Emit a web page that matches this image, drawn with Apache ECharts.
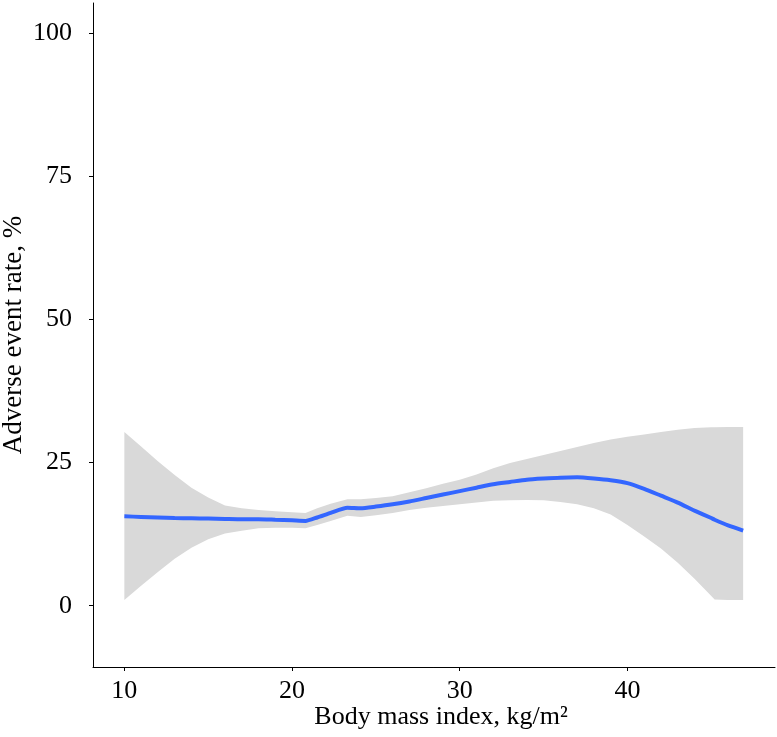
<!DOCTYPE html>
<html>
<head>
<meta charset="utf-8">
<script src="https://cdn.jsdelivr.net/npm/echarts@6/dist/echarts.min.js"></script>
<style>
  html, body { margin: 0; padding: 0; background: #fff; }
  #main { width: 777px; height: 737px; }
</style>
</head>
<body>
<div id="main"></div>
<script>
// BMI positions shared by the fit and its band
const bmi = [10, 11, 12, 13, 14, 15, 16, 17, 18, 19, 20, 20.8, 21.5, 22.3, 23.3, 24.1, 25, 26, 27, 28,
  29, 30, 31, 32, 33, 34, 35, 36, 37, 38, 39, 40, 41, 42, 43, 44, 45, 45.2, 46, 46.9];
// fitted adverse event rate, %
const fit = [15.6, 15.5, 15.4, 15.3, 15.25, 15.2, 15.15, 15.1, 15.1, 15.0, 14.9, 14.8, 15.4, 16.2, 17.1, 17.0, 17.3, 17.7, 18.2, 18.8,
  19.4, 20.0, 20.6, 21.2, 21.6, 22.0, 22.2, 22.35, 22.4, 22.2, 21.9, 21.4, 20.4, 19.2, 18.0, 16.6, 15.3, 15.0, 14.0, 13.1];
// confidence band
const lower = [1.0, 3.5, 5.9, 8.2, 10.1, 11.6, 12.6, 13.1, 13.5, 13.6, 13.6, 13.5, 14.1, 14.8, 15.7, 15.5, 15.8, 16.2, 16.7, 17.1,
  17.4, 17.7, 18.0, 18.3, 18.4, 18.45, 18.4, 18.1, 17.7, 17.0, 15.9, 14.1, 12.1, 10.0, 7.5, 4.7, 1.7, 1.1, 1.0, 1.0];
const upper = [30.3, 27.8, 25.2, 22.8, 20.6, 18.9, 17.5, 17.0, 16.7, 16.5, 16.3, 16.2, 17.0, 17.8, 18.6, 18.6, 18.8, 19.1, 19.8, 20.5,
  21.3, 22.0, 22.9, 24.0, 24.9, 25.6, 26.3, 27.0, 27.7, 28.4, 29.0, 29.5, 29.9, 30.3, 30.7, 31.0, 31.15, 31.15, 31.2, 31.2];
const xTicks = [10, 20, 30, 40];
const yTicks = [0, 25, 50, 75, 100];

const font = 'Liberation Serif';
const axisStyle = { onZero: false, lineStyle: { color: '#000', width: 1 } };

// band polygon: upper edge left->right, then lower edge right->left
function renderBand(params, api) {
  if (params.dataIndex !== 0) return null;
  const pts = [];
  for (let i = 0; i < bmi.length; i++) pts.push(api.coord([bmi[i], upper[i]]));
  for (let i = bmi.length - 1; i >= 0; i--) pts.push(api.coord([bmi[i], lower[i]]));
  return {
    type: 'polygon',
    shape: { points: pts },
    style: { fill: '#d9d9d9' },
  };
}

const option = {
  animation: false,
  textStyle: { fontFamily: font },
  grid: { left: 93, right: 2, top: 3, bottom: 70, outerBoundsMode: 'none' },
  xAxis: {
    type: 'value',
    min: 8.13,
    max: 48.8,
    splitLine: { show: false },
    axisLine: axisStyle,
    axisTick: { customValues: xTicks, length: 4, lineStyle: { color: '#000' } },
    axisLabel: { customValues: xTicks, fontSize: 26, color: '#000', fontFamily: font, margin: 11 },
    name: 'Body mass index, kg/m²',
    nameLocation: 'middle',
    nameGap: 37,
    nameMoveOverlap: false,
    nameTextStyle: { fontSize: 26, color: '#000', fontFamily: font, padding: [0, 0, 0, 14] },
  },
  yAxis: {
    type: 'value',
    min: -10.7,
    max: 105.2,
    splitLine: { show: false },
    axisLine: axisStyle,
    axisTick: { customValues: yTicks, length: 4, lineStyle: { color: '#000' } },
    axisLabel: { customValues: yTicks, fontSize: 26, color: '#000', fontFamily: font, margin: 21 },
    name: 'Adverse event rate, %',
    nameLocation: 'middle',
    nameGap: 66,
    nameMoveOverlap: false,
    nameTextStyle: { fontSize: 27, color: '#000', fontFamily: font },
  },
  series: [
    {
      type: 'custom',
      renderItem: renderBand,
      data: bmi.map((x, i) => [x, lower[i], upper[i]]),
      encode: { x: 0, y: [1, 2] },
      silent: true,
      z: 1,
    },
    {
      type: 'line',
      data: bmi.map((x, i) => [x, fit[i]]),
      lineStyle: { color: '#3366ff', width: 4 },
      symbol: 'none',
      smooth: 0.2,
      z: 2,
    },
  ],
};

const myChart = echarts.init(document.getElementById('main'));
myChart.setOption(option);
</script>
</body>
</html>
